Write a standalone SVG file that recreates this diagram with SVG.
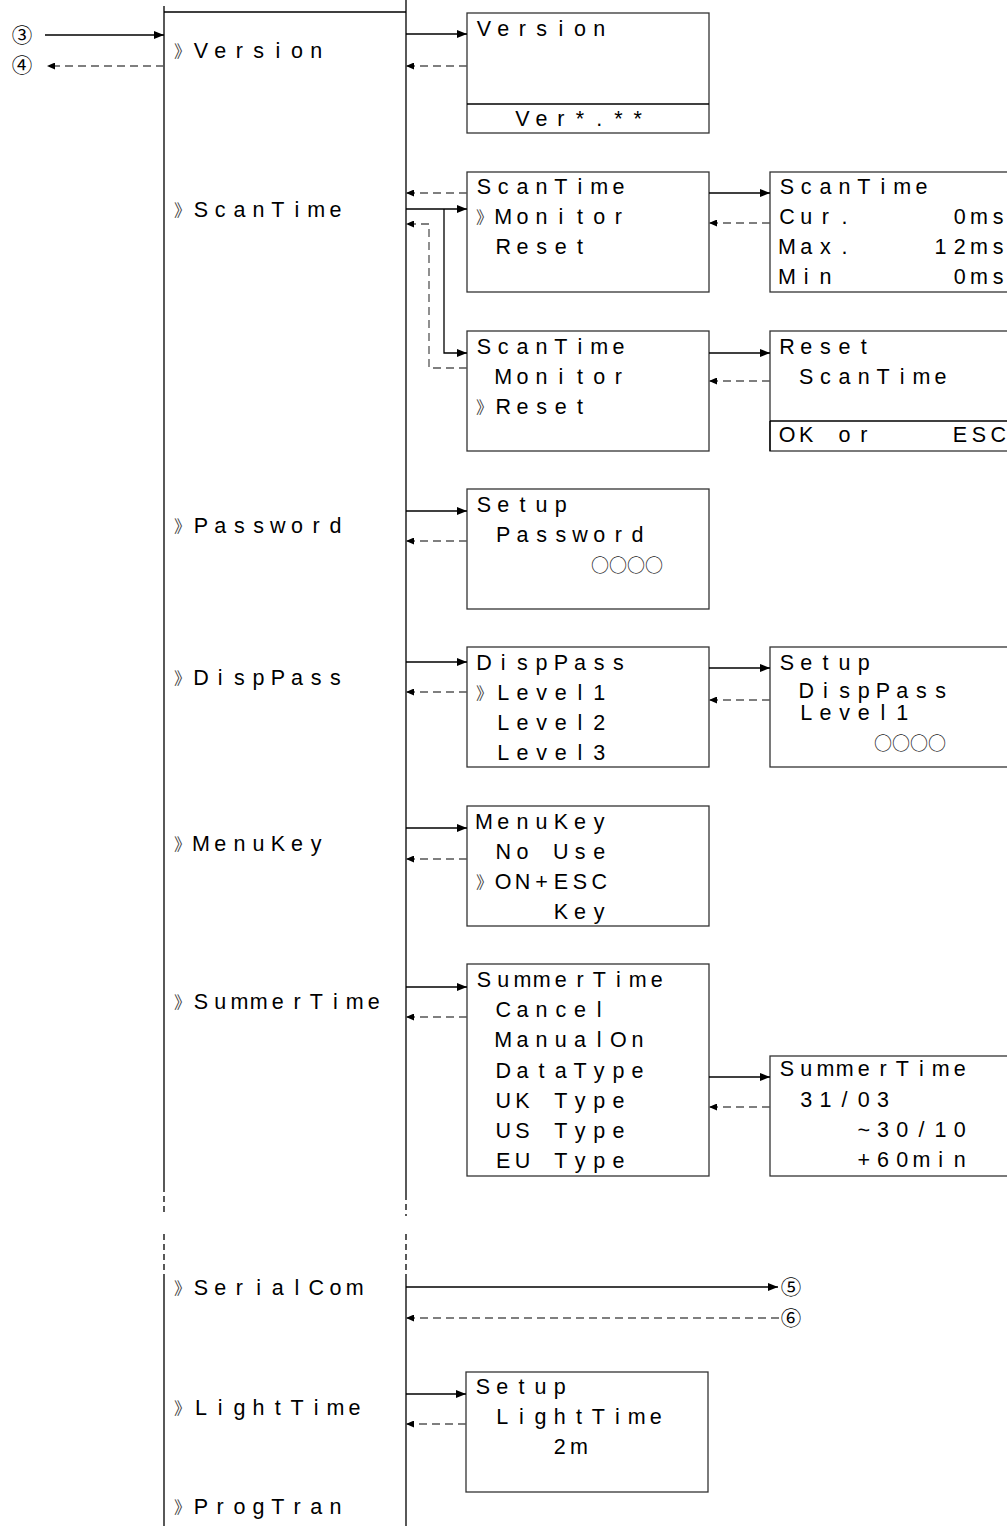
<svg xmlns="http://www.w3.org/2000/svg" width="1007" height="1526" viewBox="0 0 1007 1526">
<style>
.t{font-family:"Liberation Sans",Arial,sans-serif;font-size:21.5px;fill:#000;text-anchor:middle}
.m{font-family:"Noto Sans CJK JP","Noto Sans CJK SC",sans-serif;font-size:17px;fill:#444}
.c{font-family:"Noto Sans CJK JP","Noto Sans CJK SC",sans-serif;font-size:18px;fill:#222}
.n{font-family:"Noto Sans CJK JP","Noto Sans CJK SC",sans-serif;font-size:20.5px;fill:#000;text-anchor:middle}
.box{fill:#fff;stroke:#333;stroke-width:1.3}
.ln{fill:none;stroke:#000;stroke-width:1.3}
.s{fill:none;stroke:#000;stroke-width:1.3;marker-end:url(#a)}
.d{fill:none;stroke:#555;stroke-width:1.3;stroke-dasharray:8 5;marker-end:url(#ad)}
</style>
<defs>
<marker id="a" markerUnits="userSpaceOnUse" markerWidth="10" markerHeight="8" refX="10" refY="4" orient="auto"><path d="M0,0L10,4L0,8z" fill="#000"/></marker>
<marker id="ad" markerUnits="userSpaceOnUse" markerWidth="8" markerHeight="7" refX="8" refY="3.5" orient="auto"><path d="M0,0L8,3.5L0,7z" fill="#000"/></marker>
</defs>
<rect width="1007" height="1526" fill="#fff"/>

<g id="menu">
<path class="ln" d="M164,6V1186M406,0V1194M164,12H406M164,1280V1526M406,1280V1526"/>
<path class="ln" stroke-dasharray="6 4" d="M164,1186V1216M406,1194V1216M164,1234V1280M406,1234V1280"/>
<text class="m" x="174" y="58">》</text><text class="t" x="201 220.2 239.4 258.6 277.8 297 316.2" y="58">Version</text>
<text class="m" x="174" y="217">》</text><text class="t" x="201 220.2 239.4 258.6 277.8 297 316.2 335.4" y="217">ScanTime</text>
<text class="m" x="174" y="533">》</text><text class="t" x="201 220.2 239.4 258.6 277.8 297 316.2 335.4" y="533">Password</text>
<text class="m" x="174" y="685">》</text><text class="t" x="201 220.2 239.4 258.6 277.8 297 316.2 335.4" y="685">DispPass</text>
<text class="m" x="174" y="851">》</text><text class="t" x="201 220.2 239.4 258.6 277.8 297 316.2" y="851">MenuKey</text>
<text class="m" x="174" y="1009">》</text><text class="t" x="201 220.2 239.4 258.6 277.8 297 316.2 335.4 354.6 373.8" y="1009">SummerTime</text>
<text class="m" x="174" y="1295">》</text><text class="t" x="201 220.2 239.4 258.6 277.8 297 316.2 335.4 354.6" y="1295">SerialCom</text>
<text class="m" x="174" y="1415">》</text><text class="t" x="201 220.2 239.4 258.6 277.8 297 316.2 335.4 354.6" y="1415">LightTime</text>
<text class="m" x="174" y="1514">》</text><text class="t" x="201 220.2 239.4 258.6 277.8 297 316.2 335.4" y="1514">ProgTran</text>
</g>

<g id="ref3"><text class="n" x="22" y="43">③</text></g>
<g id="ref4"><text class="n" x="22" y="73">④</text></g>
<g id="ref5"><text class="n" x="791" y="1295">⑤</text></g>
<g id="ref6"><text class="n" x="791" y="1326">⑥</text></g>

<g id="version">
<rect class="box" x="467" y="13" width="242" height="120"/>
<path class="ln" stroke="#333" d="M467,104H709"/>
<text class="t" x="484 503.2 522.4 541.6 560.8 580 599.2" y="36">Version</text>
<text class="t" x="522.4 541.6 560.8 580 599.2 618.4 637.6" y="126">Ver*.**</text>
</g>

<g id="scan-monitor-sel">
<rect class="box" x="467" y="172" width="242" height="120"/>
<text class="t" x="484 503.2 522.4 541.6 560.8 580 599.2 618.4" y="194">ScanTime</text>
<text class="m" x="476" y="224">》</text>
<text class="t" x="503.2 522.4 541.6 560.8 580 599.2 618.4" y="224">Monitor</text>
<text class="t" x="503.2 522.4 541.6 560.8 580" y="254">Reset</text>
</g>

<g id="scan-reset-sel">
<rect class="box" x="467" y="331" width="242" height="120"/>
<text class="t" x="484 503.2 522.4 541.6 560.8 580 599.2 618.4" y="354">ScanTime</text>
<text class="t" x="503.2 522.4 541.6 560.8 580 599.2 618.4" y="384">Monitor</text>
<text class="m" x="476" y="414">》</text>
<text class="t" x="503.2 522.4 541.6 560.8 580" y="414">Reset</text>
</g>

<g id="scan-monitor">
<rect class="box" x="770" y="172" width="245" height="120"/>
<text class="t" x="787 806.2 825.4 844.6 863.8 883 902.2 921.4" y="194">ScanTime</text>
<text class="t" x="787 806.2 825.4 844.6 863.8 959.8 979 998.2" y="224">Cur. 0ms</text>
<text class="t" x="787 806.2 825.4 844.6 863.8 940.6 959.8 979 998.2" y="254">Max. 12ms</text>
<text class="t" x="787 806.2 825.4 844.6 959.8 979 998.2" y="284">Min 0ms</text>
</g>

<g id="scan-reset">
<rect class="box" x="770" y="331" width="245" height="120"/>
<path class="ln" stroke="#333" d="M770,421H1015"/>
<path class="ln" stroke-width="2.2" d="M770,421V451"/>
<text class="t" x="787 806.2 825.4 844.6 863.8" y="354">Reset</text>
<text class="t" x="806.2 825.4 844.6 863.8 883 902.2 921.4 940.6" y="384">ScanTime</text>
<text class="t" x="787 806.2 825.4 844.6 863.8 940.6 959.8 979 998.2" y="442">OK or ESC</text>
</g>

<g id="password">
<rect class="box" x="467" y="489" width="242" height="120"/>
<text class="t" x="484 503.2 522.4 541.6 560.8" y="512">Setup</text>
<text class="t" x="503.2 522.4 541.6 560.8 580 599.2 618.4 637.6" y="542">Password</text>
<text class="c" x="591" y="572">○○○○</text>
</g>

<g id="disppass">
<rect class="box" x="467" y="647" width="242" height="120"/>
<text class="t" x="484 503.2 522.4 541.6 560.8 580 599.2 618.4" y="670">DispPass</text>
<text class="m" x="476" y="700">》</text>
<text class="t" x="503.2 522.4 541.6 560.8 580 599.2" y="700">Level1</text>
<text class="t" x="503.2 522.4 541.6 560.8 580 599.2" y="730">Level2</text>
<text class="t" x="503.2 522.4 541.6 560.8 580 599.2" y="760">Level3</text>
</g>

<g id="disppass-setup">
<rect class="box" x="770" y="647" width="245" height="120"/>
<text class="t" x="787 806.2 825.4 844.6 863.8" y="670">Setup</text>
<text class="t" x="806.2 825.4 844.6 863.8 883 902.2 921.4 940.6" y="698">DispPass</text>
<text class="t" x="806.2 825.4 844.6 863.8 883 902.2" y="720">Level1</text>
<text class="c" x="874" y="750">○○○○</text>
</g>

<g id="menukey">
<rect class="box" x="467" y="806" width="242" height="120"/>
<text class="t" x="484 503.2 522.4 541.6 560.8 580 599.2" y="829">MenuKey</text>
<text class="t" x="503.2 522.4 541.6 560.8 580 599.2" y="859">No Use</text>
<text class="m" x="476" y="889">》</text>
<text class="t" x="503.2 522.4 541.6 560.8 580 599.2" y="889">ON+ESC</text>
<text class="t" x="560.8 580 599.2" y="919">Key</text>
</g>

<g id="summertime">
<rect class="box" x="467" y="964" width="242" height="212"/>
<text class="t" x="484 503.2 522.4 541.6 560.8 580 599.2 618.4 637.6 656.8" y="987">SummerTime</text>
<text class="t" x="503.2 522.4 541.6 560.8 580 599.2" y="1017">Cancel</text>
<text class="t" x="503.2 522.4 541.6 560.8 580 599.2 618.4 637.6" y="1047">ManualOn</text>
<text class="t" x="503.2 522.4 541.6 560.8 580 599.2 618.4 637.6" y="1078">DataType</text>
<text class="t" x="503.2 522.4 541.6 560.8 580 599.2 618.4" y="1108">UK Type</text>
<text class="t" x="503.2 522.4 541.6 560.8 580 599.2 618.4" y="1138">US Type</text>
<text class="t" x="503.2 522.4 541.6 560.8 580 599.2 618.4" y="1168">EU Type</text>
</g>

<g id="summertime-data">
<rect class="box" x="770" y="1056" width="245" height="120"/>
<text class="t" x="787 806.2 825.4 844.6 863.8 883 902.2 921.4 940.6 959.8" y="1076">SummerTime</text>
<text class="t" x="806.2 825.4 844.6 863.8 883" y="1107">31/03</text>
<text class="t" x="863.8 883 902.2 921.4 940.6 959.8" y="1137">~30/10</text>
<text class="t" x="863.8 883 902.2 921.4 940.6 959.8" y="1167">+60min</text>
</g>

<g id="lighttime">
<rect class="box" x="466" y="1372" width="242" height="120"/>
<text class="t" x="483 502.2 521.4 540.6 559.8" y="1394">Setup</text>
<text class="t" x="502.2 521.4 540.6 559.8 579 598.2 617.4 636.6 655.8" y="1424">LightTime</text>
<text class="t" x="559.8 579" y="1454">2m</text>
</g>

<g id="connectors">
<path class="s" d="M45,35H164"/>
<path class="d" d="M164,66H47"/>
<path class="s" d="M406,34H467"/>
<path class="d" d="M467,66H406"/>
<path class="d" d="M467,193H406"/>
<path class="s" d="M406,209H467"/>
<path class="s" d="M444,209V353H467"/>
<path class="d" d="M467,368H429V224H406"/>
<path class="s" d="M709,193H770"/>
<path class="d" d="M770,223H709"/>
<path class="s" d="M709,353H770"/>
<path class="d" d="M770,381H709"/>
<path class="s" d="M406,511H467"/>
<path class="d" d="M467,541H406"/>
<path class="s" d="M406,662H467"/>
<path class="d" d="M467,692H406"/>
<path class="s" d="M709,668H770"/>
<path class="d" d="M770,700H709"/>
<path class="s" d="M406,828H467"/>
<path class="d" d="M467,859H406"/>
<path class="s" d="M406,987H467"/>
<path class="d" d="M467,1017H406"/>
<path class="s" d="M709,1077H770"/>
<path class="d" d="M770,1107H709"/>
<path class="s" d="M406,1287H778"/>
<path class="d" d="M779,1318H406"/>
<path class="s" d="M406,1394H466"/>
<path class="d" d="M466,1424H406"/>
</g>
</svg>
